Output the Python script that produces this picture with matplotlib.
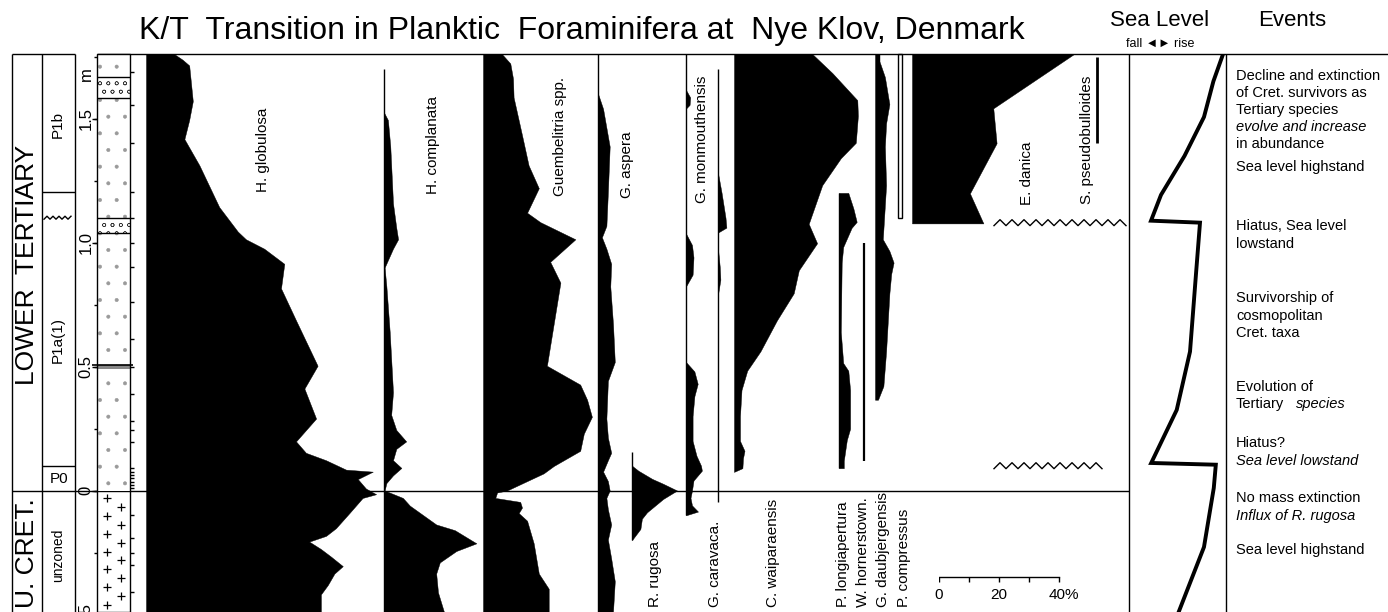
import numpy as np
import matplotlib.pyplot as plt
from matplotlib.patches import Rectangle

plt.rcParams['font.family'] = ['Liberation Sans', 'DejaVu Sans']
plt.rcParams['hatch.linewidth'] = 0.4

W, H = 1388, 612
TOP = 54          # px, upper border of the section
KT_PX = 490.5     # px, K/T boundary
PX_M = 248.0      # px per metre of section
PX_PCT = 3.0      # px per percent abundance
YMAX = (KT_PX - TOP) / PX_M
YMIN = (KT_PX - H) / PX_M

# relative abundance (%) against height above the K/T boundary (m)
glob_d = [1.76, 1.737, 1.714, 1.570, 1.494, 1.417, 1.311, 1.143, 1.044, 1.013, 0.975, 0.914,
          0.815, 0.686, 0.503, 0.411, 0.290, 0.198, 0.152, 0.122, 0.084, 0.076, 0.046, 0.008,
          -0.015, -0.030, -0.091, -0.152, -0.183, -0.206, -0.236, -0.267, -0.305, -0.335,
          -0.381, -0.419, -0.49]
glob_p = [9.4, 12.2, 14.4, 15.6, 14.4, 12.8, 17.8, 24.4, 30.6, 33.3, 39.4, 46.1,
          45.0, 50.0, 57.2, 52.8, 56.7, 50.0, 53.3, 60.0, 66.7, 75.6, 70.6, 73.3,
          76.7, 72.2, 67.8, 63.3, 60.0, 54.4, 58.3, 61.7, 65.6, 62.8,
          60.6, 58.3, 58.3]

compl_d = [1.524, 1.494, 1.387, 1.158, 1.059, 1.013, 0.975, 0.899, 0.823, 0.640, 0.396, 0.305,
           0.244, 0.198, 0.168, 0.122, 0.091, 0.061, 0.030, 0.0, -0.030, -0.061, -0.137,
           -0.160, -0.213, -0.244, -0.290, -0.335, -0.411, -0.49]
compl_p = [0, 1.3, 2.1, 3.0, 4.1, 4.7, 3.0, 0.2, 0.8, 1.9, 3.0, 2.4,
           4.1, 7.4, 4.1, 3.0, 5.8, 3.0, 0.8, 0.2, 6.3, 8.6, 17.4,
           23.6, 30.8, 24.1, 18.6, 17.4, 18.0, 20.0]

guem_d = [1.76, 1.722, 1.661, 1.585, 1.433, 1.311, 1.219, 1.120, 1.082, 1.013, 0.922, 0.838,
          0.503, 0.427, 0.366, 0.297, 0.229, 0.160, 0.099, 0.069, 0.0, -0.008, -0.030,
          -0.046, -0.069, -0.091, -0.122, -0.213, -0.335, -0.396, -0.49]
guem_p = [6.3, 9.1, 10.0, 10.2, 13.0, 15.2, 18.6, 14.7, 19.1, 30.8, 22.4, 25.8,
          21.3, 32.4, 34.7, 36.3, 33.6, 32.4, 23.6, 20.2, 8.0, 4.7, 4.1,
          12.4, 13.0, 11.9, 14.7, 16.9, 18.6, 21.9, 21.9]

asp_d = [1.600, 1.539, 1.387, 1.204, 1.067, 1.021, 0.975, 0.914, 0.823, 0.671, 0.518, 0.442,
         0.290, 0.213, 0.152, 0.122, 0.076, 0.038, 0.0, -0.030, -0.076, -0.137, -0.198,
         -0.274, -0.366, -0.49]
asp_p = [0, 1.7, 3.9, 3.3, 2.8, 1.3, 2.8, 4.4, 4.1, 5.0, 5.6, 3.3,
         2.8, 3.3, 4.4, 3.3, 1.7, 3.3, 3.9, 2.8, 3.3, 4.4, 3.3,
         4.4, 5.6, 5.0]

rug_d = [0.10, 0.08, 0.047, 0.027, 0.0, -0.034, -0.088, -0.114, -0.155, -0.20]
rug_p = [0, 2.1, 6.7, 10.4, 15.0, 10.4, 5.0, 3.3, 2.8, 0]

mon_d = [1.615, 1.585, 1.555, 1.540, 1.036, 0.99, 0.94, 0.87, 0.823, 0.518, 0.48, 0.43,
         0.38, 0.30, 0.20, 0.14, 0.10, 0.08, 0.04, 0.0, -0.03, -0.06, -0.085, -0.10]
mon_p = [0, 1.4, 1.2, 0, 0, 2.0, 2.5, 2.2, 0, 0, 2.8, 3.9,
         2.8, 2.2, 2.2, 3.5, 5.0, 5.3, 2.5, 2.0, 1.5, 2.0, 4.0, 0]

car_d = [1.28, 1.2, 1.1, 1.06, 1.04, 0.975, 0.90, 0.85, 0.79]
car_p = [0, 1.2, 2.5, 2.8, 0, 0, 0.6, 0.8, 0]

wai_d = [1.76, 1.683, 1.574, 1.511, 1.402, 1.340, 1.231, 1.075, 0.997, 0.888, 0.795, 0.686,
         0.561, 0.483, 0.405, 0.30, 0.20, 0.16, 0.13, 0.09, 0.075]
wai_p = [26.1, 32.8, 41.1, 41.3, 40.6, 35.6, 29.4, 24.9, 27.7, 21.6, 19.9, 14.3,
         8.8, 4.4, 2.5, 2.0, 2.0, 3.5, 3.0, 2.8, 0]

lon_d = [1.20, 1.20, 1.137, 1.083, 1.059, 0.982, 0.919, 0.639, 0.514, 0.483, 0.405, 0.249,
         0.203, 0.12, 0.09]
lon_p = [0, 3.1, 4.8, 5.9, 4.2, 1.4, 0.9, 0.6, 1.4, 3.1, 3.7, 3.7,
         2.6, 1.6, 1.6]

dau_d = [1.76, 1.73, 1.667, 1.558, 1.480, 1.387, 1.231, 1.013, 0.966, 0.919, 0.873, 0.795,
         0.561, 0.421, 0.366]
dau_p = [1.5, 1.5, 3.3, 4.8, 3.7, 3.3, 3.7, 2.6, 4.8, 6.2, 5.4, 4.8,
         3.7, 2.8, 1.0]

dan_d = [1.76, 1.541, 1.400, 1.198, 1.077]
dan_p = [54.0, 27.1, 28.2, 19.3, 23.8]

# ranges drawn as plain lines (top, base)
compl_range = (1.70, YMIN)
asp_range = (YMAX, YMIN)
rug_range = (0.155, -0.20)
mon_range = (YMAX, -0.10)
car_range = (1.70, -0.045)
lon_range = (1.20, 0.09)
horn_range = (1.00, 0.12)
compr_range = (YMAX, 1.10)
compr_width = 1.3
pseudo_range = (1.75, 1.40)

# sample levels, lithology, zones
samples = [1.688, 1.554, 1.401, 1.203, 1.099, 1.0, 0.9, 0.76, 0.61, 0.5, 0.39, 0.28,
           0.244, 0.196, 0.09, 0.076, 0.062, 0.049, 0.035, 0.022, 0.009,
           -0.1, -0.19, -0.25, -0.30, -0.41]
conglomerates = [(1.583, 1.667), (1.038, 1.099)]
thin_bed = (0.49, 0.505)
zone_lines = [1.203, 0.10]
hiatus_levels = [1.10, 0.10]
depth_ticks = [1.5, 1.0, 0.5, 0.0, -0.5]
depth_labels = ['1.5', '1.0', '0.5', '0', '0.5']

# relative sea level (0 = fall, 1 = rise)
sea_d = [1.76, 1.65, 1.506, 1.349, 1.192, 1.088, 1.080, 0.875, 0.560, 0.325, 0.111,
         0.104, 0.010, -0.228, -0.49]
sea_x = [0.97, 0.87, 0.773, 0.572, 0.330, 0.227, 0.732, 0.691, 0.629, 0.492, 0.229,
         0.895, 0.874, 0.773, 0.512]

events = [
    (76, 'Decline and extinction', 'normal'),
    (93, 'of Cret. survivors as', 'normal'),
    (110, 'Tertiary species', 'normal'),
    (127, 'evolve and increase', 'italic'),
    (144, 'in abundance', 'normal'),
    (167, 'Sea level highstand', 'normal'),
    (226, 'Hiatus, Sea level', 'normal'),
    (244, 'lowstand', 'normal'),
    (298, 'Survivorship of', 'normal'),
    (316, 'cosmopolitan', 'normal'),
    (333, 'Cret. taxa', 'normal'),
    (387, 'Evolution of', 'normal'),
    (443, 'Hiatus?', 'normal'),
    (461, 'Sea level lowstand', 'italic'),
    (498, 'No mass extinction', 'normal'),
    (516, 'Influx of R. rugosa', 'italic'),
    (550, 'Sea level highstand', 'normal'),
]

fig = plt.figure(figsize=(W / 100, H / 100), dpi=100)
fig.patch.set_facecolor('white')
SEC_H = (H - TOP) / H


def column(left, width=300, xmax=None):
    ax = fig.add_axes([left / W, 0, width / W, SEC_H])
    ax.set_xlim(0, width / PX_PCT if xmax is None else xmax)
    ax.set_ylim(YMIN, YMAX)
    ax.axis('off')
    ax.patch.set_visible(False)
    return ax


def profile(left, d, p, rng=None):
    ax = column(left)
    ax.fill_betweenx(d, 0, p, color='black', lw=0.3, edgecolor='black')
    if rng is not None:
        ax.vlines(0, rng[1], rng[0], color='black', lw=1.0, clip_on=False)
    return ax


def ftext(x, y, s, **kw):
    fig.text(x / W, 1 - y / H, s, **kw)


# frame in pixel x / metre y
frame = fig.add_axes([0, 0, 1, SEC_H])
frame.set_xlim(0, W)
frame.set_ylim(YMIN, YMAX)
frame.axis('off')

lw = 1.0
frame.hlines(YMAX, 12, 75, color='k', lw=lw, clip_on=False)
frame.hlines(YMAX, 97, W, color='k', lw=lw, clip_on=False)
frame.vlines([12, 42, 75, 1129, 1226], YMIN, YMAX, color='k', lw=lw)
frame.hlines(0, 12, 1129, color='k', lw=lw)
frame.hlines(zone_lines, 42, 75, color='k', lw=lw)


# zig-zag hiatus marks
def zigzag(x0, x1, d, amp=0.012, step=7):
    xs = np.arange(x0, x1 + 0.1, step / 2)
    ys = d + amp * (np.arange(len(xs)) % 2 * 2 - 1)
    frame.plot(xs, ys, color='k', lw=1.0)


zigzag(44, 73, hiatus_levels[0], amp=0.006, step=6)
zigzag(994, 1126, hiatus_levels[0] - 0.02, amp=0.012, step=12)
zigzag(994, 1104, hiatus_levels[1], amp=0.012, step=12)

# lithology column
lith = column(97, width=33, xmax=1)
lith.add_patch(Rectangle((0, 0), 1, YMAX, facecolor='white', edgecolor='#9a9a9a',
                         hatch='.', lw=0))
for lo, hi in conglomerates:
    lith.add_patch(Rectangle((0, lo), 1, hi - lo, facecolor='white', edgecolor='#333333',
                             hatch='oo', lw=0))
    lith.hlines([lo, hi], 0, 1, color='k', lw=1.0)
lith.add_patch(Rectangle((0, thin_bed[0]), 1, thin_bed[1] - thin_bed[0], facecolor='#888888',
                         lw=0))
lith.hlines(thin_bed[1], -0.15, 1.1, color='k', lw=1.2, clip_on=False)
cret_y = np.arange(-0.03, YMIN, -0.036)
cret_x = np.where(np.arange(len(cret_y)) % 2 == 0, 0.3, 0.72)
lith.scatter(cret_x, cret_y, marker='+', s=30, color='k', lw=0.9)
lith.add_patch(Rectangle((0, YMIN), 1, YMAX - YMIN, fill=False, edgecolor='k', lw=1.0,
                         clip_on=False))
lith.hlines(samples, 1.0, 1.12, color='k', lw=1.0, clip_on=False)
lith.hlines(depth_ticks, -0.15, 0, color='k', lw=1.0, clip_on=False)
lith.hlines(np.arange(1.75, -0.5, -0.25), -0.08, 0, color='k', lw=1.0, clip_on=False)

for d, lab in zip(depth_ticks, depth_labels):
    frame.text(86, d, lab, rotation=90, ha='center', va='center', fontsize=12)
frame.text(86, 1.68, 'm', rotation=90, ha='center', va='center', fontsize=12)

# species columns
profile(146, glob_d, glob_p)
profile(384, compl_d, compl_p, compl_range)
profile(483, guem_d, guem_p)
profile(598, asp_d, asp_p, asp_range)
profile(632, rug_d, rug_p, rug_range)
profile(686, mon_d, mon_p, mon_range)
profile(718, car_d, car_p, car_range)
profile(734, wai_d, wai_p)
profile(839, lon_d, lon_p, lon_range)
ax = column(864)
ax.vlines(0, horn_range[1], horn_range[0], color='k', lw=1.6, clip_on=False)
profile(875, dau_d, dau_p)
ax = column(898)
ax.add_patch(Rectangle((0, compr_range[1]), compr_width, compr_range[0] - compr_range[1],
                       fill=False, edgecolor='k', lw=1.0, clip_on=False))
profile(912, dan_d, dan_p)
ax = column(1097)
ax.vlines(0, pseudo_range[1], pseudo_range[0], color='k', lw=2.0, clip_on=False)

# scale bar
sb = column(939, width=130)
sb.plot([0, 40], [-0.349, -0.349], color='k', lw=1.0)
sb.vlines([0, 10, 20, 30, 40], -0.369, -0.349, color='k', lw=1.0)
sb.text(0, -0.421, '0', ha='center', va='center', fontsize=11)
sb.text(20, -0.421, '20', ha='center', va='center', fontsize=11)
sb.text(36.5, -0.421, '40%', ha='left', va='center', fontsize=11)

# sea level curve
sea = fig.add_axes([1129 / W, 0, 97 / W, SEC_H])
sea.set_xlim(0, 1)
sea.set_ylim(YMIN, YMAX)
sea.axis('off')
sea.plot(sea_x, sea_d, color='k', lw=2.8, solid_joinstyle='miter')

# text
ftext(582, 31, 'K/T  Transition in Planktic  Foraminifera at  Nye Klov, Denmark',
      ha='center', va='center', fontsize=23)
ftext(1160, 20, 'Sea Level', ha='center', va='center', fontsize=16)
ftext(1292, 20, 'Events', ha='center', va='center', fontsize=16)
ftext(1160, 44, 'fall ◄► rise', ha='center', va='center', fontsize=9)

ftext(27, 265, 'LOWER  TERTIARY', rotation=90, ha='center', va='center', fontsize=19)
ftext(27, 553, 'U. CRET.', rotation=90, ha='center', va='center', fontsize=19)
ftext(58, 125, 'P1b', rotation=90, ha='center', va='center', fontsize=11)
ftext(58, 340, 'P1a(1)', rotation=90, ha='center', va='center', fontsize=11)
ftext(59, 479, 'P0', ha='center', va='center', fontsize=11)
ftext(58, 555, 'unzoned', rotation=90, ha='center', va='center', fontsize=10)

top_labels = [(263, 150, 'H. globulosa'), (433, 145, 'H. complanata'),
              (560, 137, 'Guembelitria spp.'), (627, 165, 'G. aspera'),
              (702, 139, 'G. monmouthensis'), (1027, 173, 'E. danica'),
              (1087, 140, 'S. pseudobulloides')]
for x, y, s in top_labels:
    ftext(x, y, s, rotation=90, ha='center', va='center', fontsize=11)

bottom_labels = [(655, 'R. rugosa'), (715, 'G. caravaca.'), (773, 'C. waiparaensis'),
                 (843, 'P. longiapertura'), (863, 'W. hornerstown.'),
                 (883, 'G. daubjergensis'), (904, 'P. compressus')]
for x, s in bottom_labels:
    ftext(x, 607, s, rotation=90, ha='center', va='bottom', fontsize=11)

for y, s, style in events:
    ftext(1236, y, s, ha='left', va='center', fontsize=10.5, style=style)
ftext(1236, 404, 'Tertiary', ha='left', va='center', fontsize=10.5)
ftext(1296, 404, 'species', ha='left', va='center', fontsize=10.5, style='italic')

fig.savefig('out.png', dpi=100)
